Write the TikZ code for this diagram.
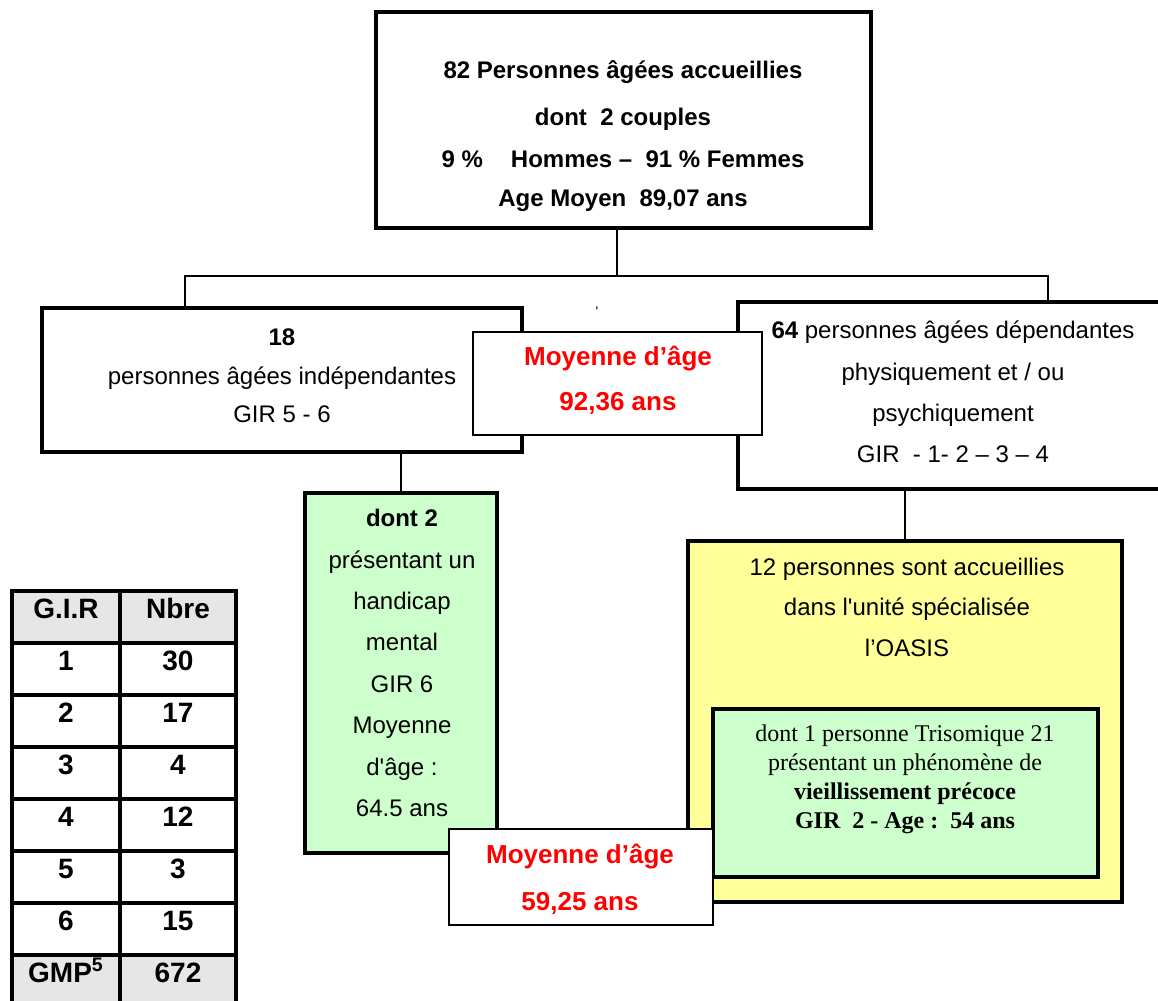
\documentclass[tikz,border=0pt]{standalone}
\usepackage{fontspec}
\setmainfont{Liberation Sans}
\newfontfamily\timesfont{Liberation Serif}
\usepackage{tikz}
\definecolor{vert}{HTML}{CCFFCC}
\definecolor{jaune}{HTML}{FFFF99}
\definecolor{gris}{HTML}{E6E6E6}
\definecolor{rouge}{HTML}{FF0000}
\tikzset{
  bigbox/.style={draw, line width=1.6pt, fill=white, inner sep=0pt},
  agebox/.style={draw, line width=0.6pt, fill=white, inner sep=0pt},
  txt/.style={align=center, inner sep=0pt, font=\fontsize{12}{20.7}\selectfont},
  agetxt/.style={align=center, inner sep=0pt, text=rouge, font=\bfseries\fontsize{13}{22.5}\selectfont},
  link/.style={line width=0.6pt},
  cell/.style={draw, line width=1.6pt, minimum height=26pt, inner sep=0pt},
  celltxt/.style={anchor=base, inner sep=0pt, font=\bfseries\fontsize{14}{16}\selectfont}
}

\begin{document}
\begin{tikzpicture}[x=0.5pt, y=-0.5pt]
                \fill[white] (0,0) rectangle (1158,1001);
                \useasboundingbox (0,0) rectangle (1158,1001);
                % boites
                \node[bigbox, minimum width=247.5pt, minimum height=108pt] (top) at (623.5,120) {};
                \node[bigbox, minimum width=240pt, minimum height=72pt] (indep) at (282,380) {};
                \node[bigbox, minimum width=221pt, minimum height=93.5pt] (dep) at (959,395.5) {};
                \node[agebox, minimum width=144.5pt, minimum height=51.5pt] (age1) at (617.5,383.5) {};
                \node[bigbox, fill=vert, minimum width=96pt, minimum height=180pt] (handi) at (401,673) {};
                \node[bigbox, fill=jaune, minimum width=217pt, minimum height=180.5pt] (oasis) at (905,721.5) {};
                \node[bigbox, fill=vert, minimum width=192.5pt, minimum height=84pt] (triso) at (905.5,793) {};
                \node[agebox, minimum width=132pt, minimum height=48pt] (age2) at (581,877) {};
                % liens
                \coordinate (split) at (617,276);
                \coordinate (jl) at (185,276);
                \coordinate (jr) at (1048,276);
                \draw[link] (top.south -| split) -- (split);
                \draw[link] (jl |- indep.north) -- (jl) -- (jr) -- (jr |- dep.north);
                \draw[link] (indep.south -| handi.north) -- (handi.north);
                \draw[link] (dep.south -| oasis.north) -- (oasis.north);
                \node[inner sep=0pt, font=\fontsize{7}{7}\selectfont] (tick) at (597,312) {\textquotesingle};
                % textes
                \node[txt, font=\bfseries\fontsize{12}{14.4}\selectfont] (toptxt) at (623,136) {82 Personnes âgées accueillies\\[9.1pt] dont~~2 couples\\[6.6pt] 9~\%\hspace{14pt}Hommes –~~91~\% Femmes\\[5.1pt] Age Moyen~~89,07 ans};
                \node[txt, font=\fontsize{12}{19.25}\selectfont] (indeptxt) at (282,376) {\textbf{18}\\ personnes âgées indépendantes\\ GIR 5 - 6};
                \node[txt] (deptxt) at (953,392) {\textbf{64} personnes âgées dépendantes\\ physiquement et / ou\\ psychiquement\\ GIR~~- 1- 2 – 3 – 4};
                \node[agetxt] (age1txt) at (618,380) {Moyenne d’âge\\ 92,36 ans};
                \node[txt] (handitxt) at (402,663) {\textbf{dont 2}\\ présentant un\\ handicap\\ mental\\ GIR 6\\ Moyenne\\ d\textquotesingle âge :\\ 64.5 ans};
                \node[txt, font=\fontsize{12}{20.25}\selectfont] (oasistxt) at (907,607) {12 personnes sont accueillies\\ dans l\textquotesingle unité spécialisée\\ l’OASIS};
                \node[txt, font=\timesfont\fontsize{12}{14.5}\selectfont] (trisotxt) at (905,779) {dont 1 personne Trisomique 21\\ présentant un phénomène de\\ \textbf{vieillissement précoce}\\ \textbf{GIR~~2 - Age :~~54 ans}};
                \node[agetxt, font=\bfseries\fontsize{13}{23.5}\selectfont] (age2txt) at (580,879) {Moyenne d’âge\\ 59,25 ans};
                % tableau GIR
                \fill[gris] (12,591) rectangle (236,642);
                \fill[gris] (12,954) rectangle (236,1006);
                \foreach \gir/\nb [count=\i from 0] in {G.I.R/Nbre, 1/30, 2/17, 3/4, 4/12, 5/3, 6/15, GMP\textsuperscript{5}/672}{
                  \node[cell, minimum width=54pt] (gir\i) at (66,617+52*\i) {};
                  \node[cell, minimum width=58pt] (nb\i) at (178,617+52*\i) {};
                  \node[celltxt] (girtxt\i) at (66,618+52*\i) {\gir};
                  \node[celltxt] (nbtxt\i) at (178,618+52*\i) {\nb};
                }
            \end{tikzpicture}
\end{document}
